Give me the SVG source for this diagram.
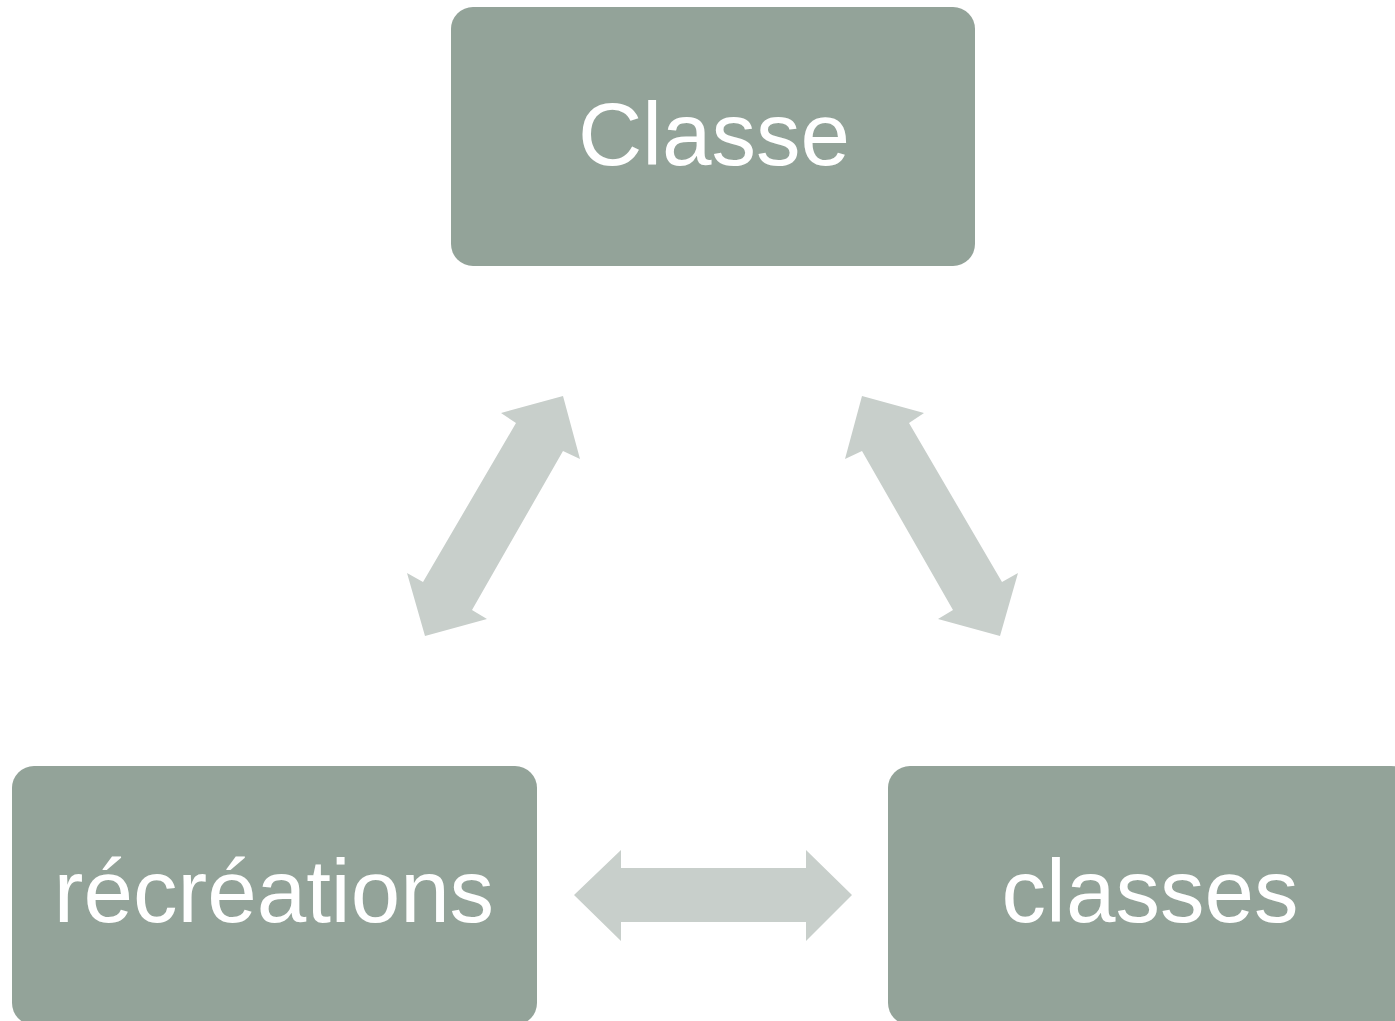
<svg xmlns="http://www.w3.org/2000/svg" width="1395" height="1021" viewBox="0 0 1395 1021">
<style>
.box{fill:#93a399}
.lbl{font-family:"Liberation Sans",Arial,sans-serif;font-size:89px;fill:#ffffff;text-anchor:middle}
.arr{fill:#c8cfcb}
</style>
<rect width="1395" height="1021" fill="#ffffff"/>
<g id="connectors">
<path id="arrow-left" class="arr" d="M563,396 L580,459 L563,451 L472,610 L487,619 L425,636 L407,573 L423,582 L516,423 L501,413 Z"/>
<path id="arrow-right" class="arr" transform="translate(1425,0) scale(-1,1)" d="M563,396 L580,459 L563,451 L472,610 L487,619 L425,636 L407,573 L423,582 L516,423 L501,413 Z"/>
<path id="arrow-bottom" class="arr" d="M574,895 L621,850 L621,868 L806,868 L806,850 L852,895 L806,941 L806,922 L621,922 L621,941 Z"/>
</g>
<g id="node-classe">
<rect class="box" x="451" y="7" width="524" height="259" rx="22"/>
<text class="lbl" x="714" y="165">Classe</text>
</g>
<g id="node-recreations">
<rect class="box" x="12" y="766" width="525" height="259" rx="22"/>
<text class="lbl" x="274" y="922">récréations</text>
</g>
<g id="node-classes">
<rect class="box" x="888" y="766" width="525" height="259" rx="22"/>
<text class="lbl" x="1150" y="922">classes</text>
</g>
</svg>
